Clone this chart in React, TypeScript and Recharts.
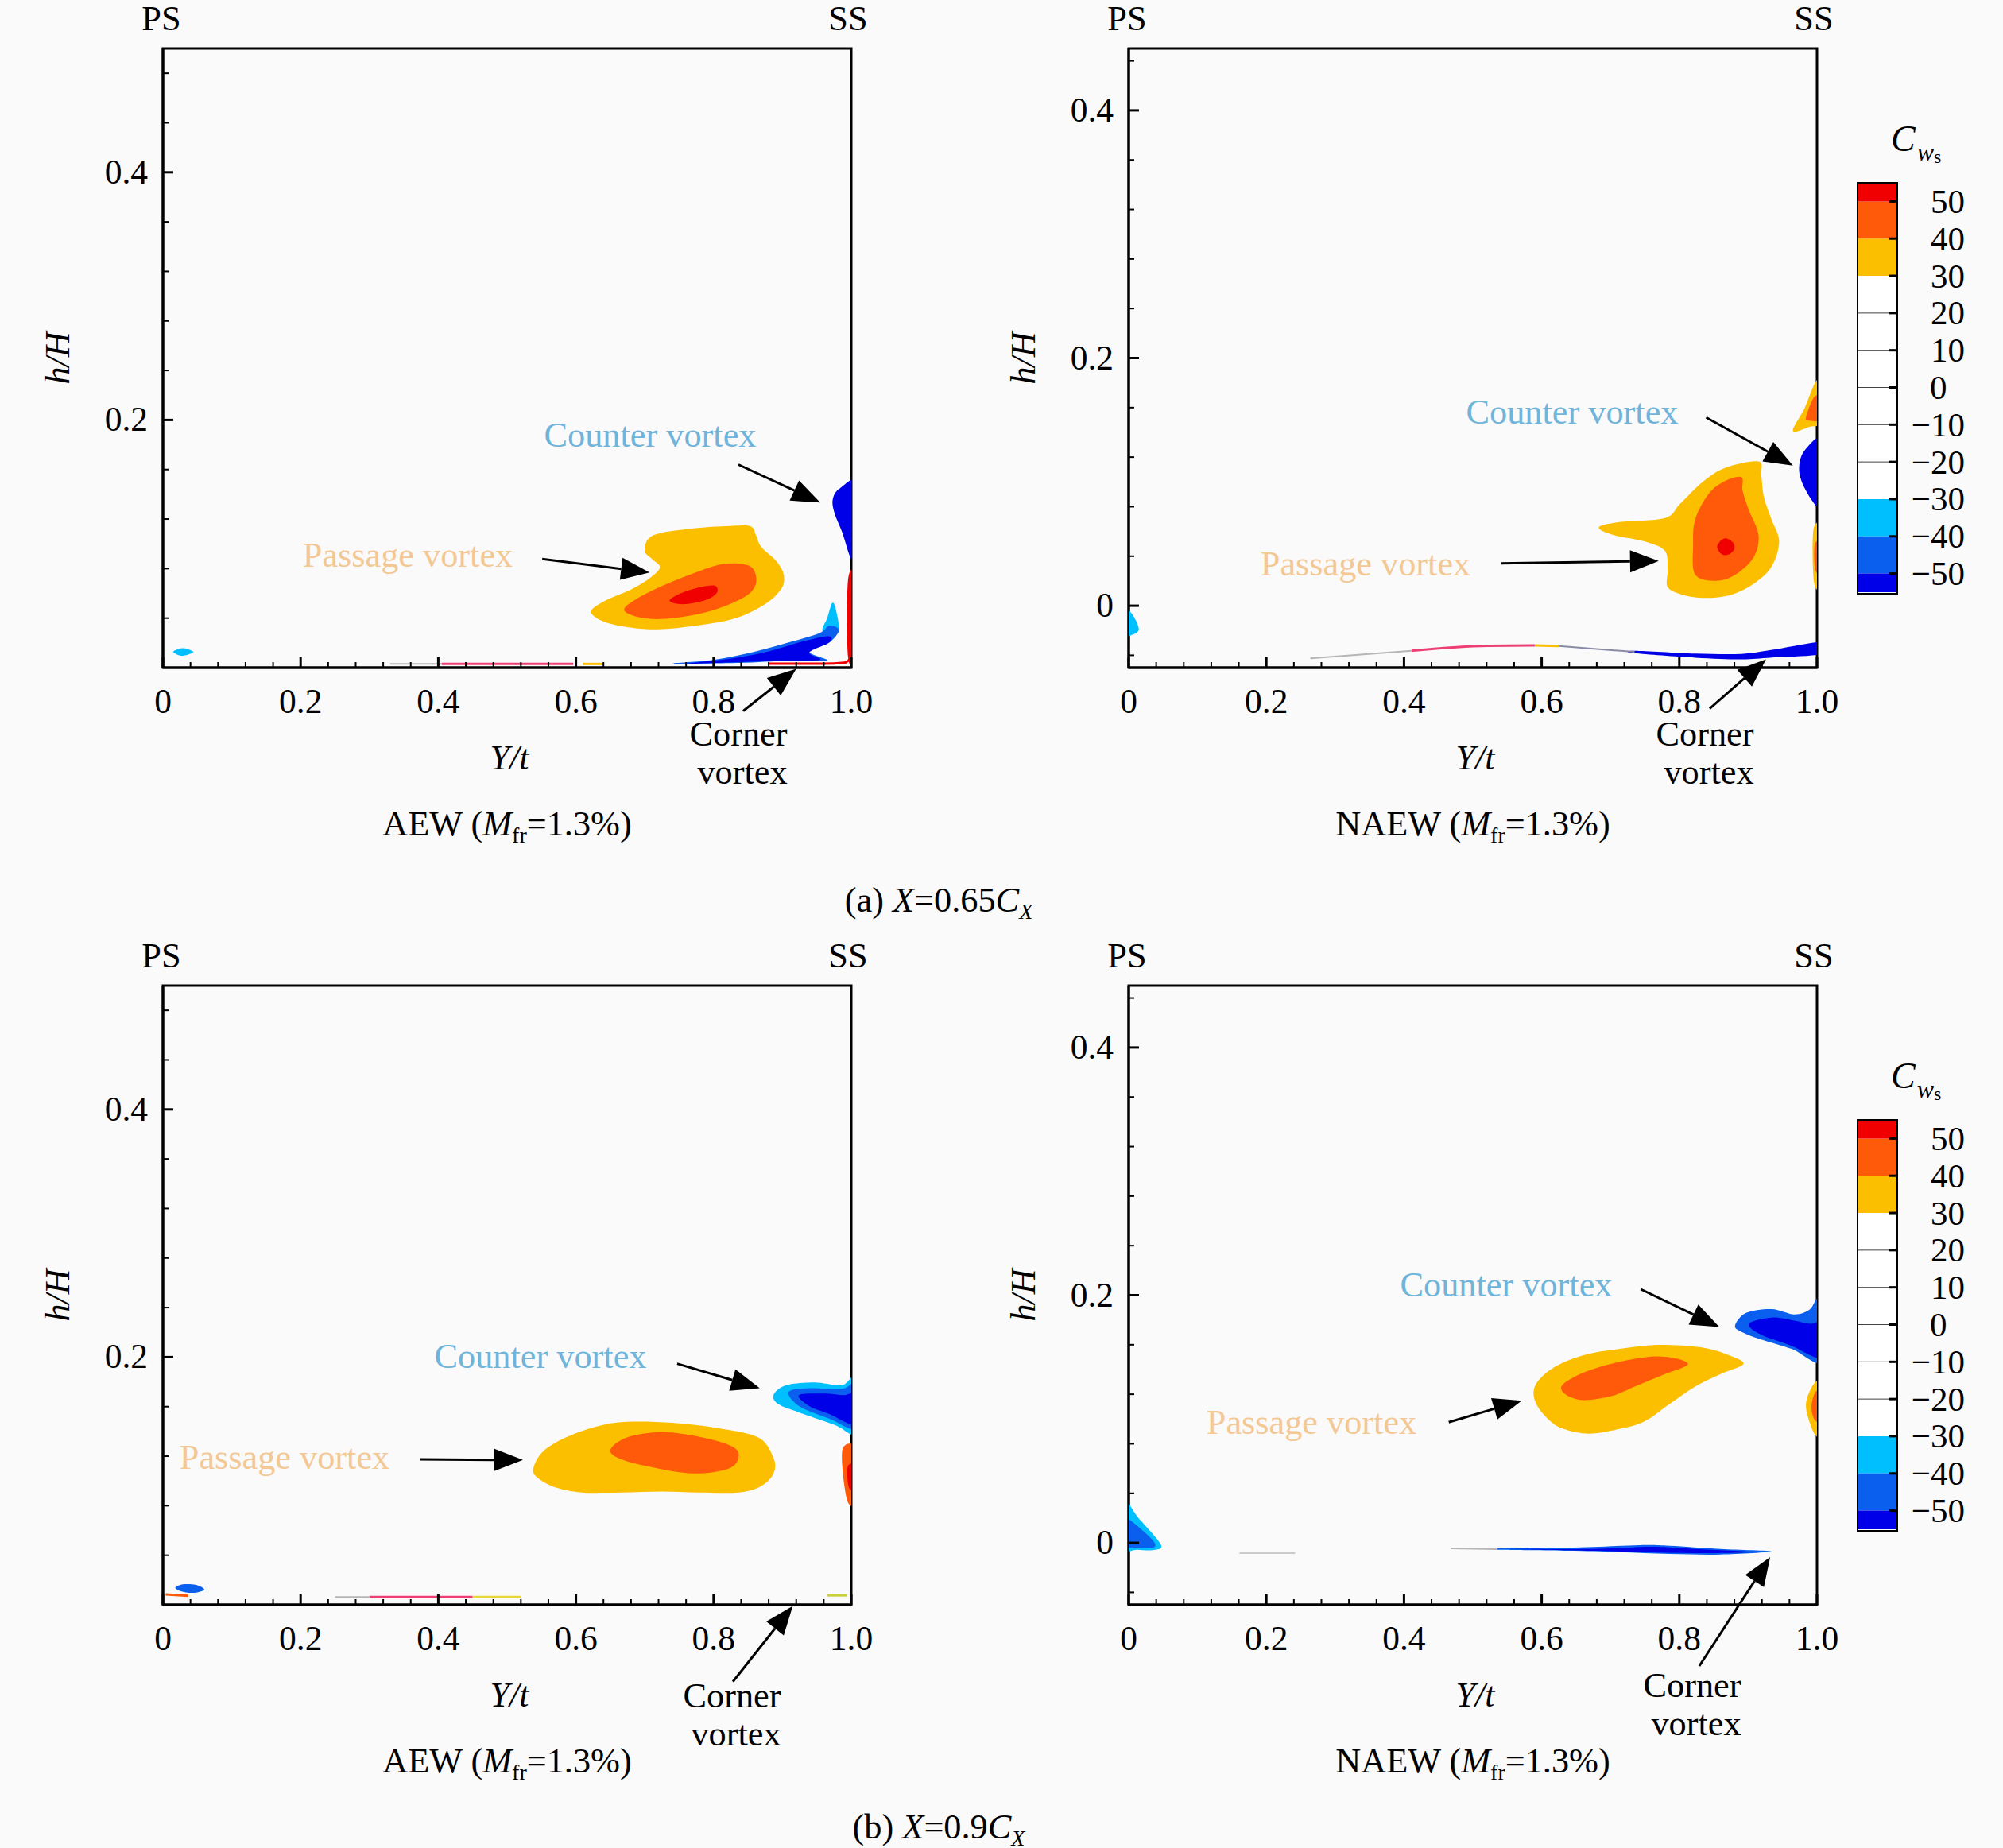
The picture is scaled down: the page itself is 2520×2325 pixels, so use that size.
import React from 'react';
import {
  ScatterChart,
  Scatter,
  BarChart,
  Bar,
  XAxis,
  YAxis,
  ReferenceLine,
  ReferenceArea,
} from 'recharts';

type Pair = [number, number];

const FONT = '"Liberation Serif", serif';
const YELLOW = '#fcbf00';
const ORANGE = '#ff5a0a';
const RED = '#f00000';
const CYAN = '#00bfff';
const MID = '#0a5fee';
const DARK = '#0000e8';
const PINK = '#ee3f74';
const GREY = '#b5b5b5';

// axis ticks
const xMajor = [0, 0.2, 0.4, 0.6, 0.8, 1];
const xMinor = [0.04, 0.08, 0.12, 0.16, 0.24, 0.28, 0.32, 0.36, 0.44, 0.48, 0.52, 0.56, 0.64, 0.68, 0.72, 0.76, 0.84, 0.88, 0.92, 0.96];
const yMajor = [0, 0.2, 0.4];
const yMinor = [-0.04, 0.04, 0.08, 0.12, 0.16, 0.24, 0.28, 0.32, 0.36, 0.44, 0.48];

// colour bar
const cbTicks = [50, 40, 30, 20, 10, 0, -10, -20, -30, -40, -50];
const cbBands = [30, 10, 10, 5, -30, -10, -10, -5];
const cbColors = ['#ffffff', YELLOW, ORANGE, RED, '#ffffff', CYAN, MID, DARK];

// (a) AEW
const a1Outer: Pair[] = [[.622,.0456],[.644,.0545],[.681,.0634],[.707,.0722],[.722,.0811],[.711,.0875],[.700,.0938],[.705,.1039],[.725,.1090],[.777,.1128],[.828,.1146],[.854,.1141],[.862,.1065],[.869,.0976],[.891,.0862],[.902,.0748],[.898,.0634],[.873,.0507],[.828,.0393],[.762,.0330],[.711,.0309],[.666,.0335],[.637,.0380]];
const a1Inner: Pair[] = [[.670,.0469],[.689,.0558],[.725,.0659],[.770,.0760],[.814,.0837],[.851,.0824],[.862,.0722],[.854,.0608],[.821,.0507],[.777,.0431],[.725,.0393],[.689,.0411]];
const a1Core: Pair[] = [[.736,.0545],[.762,.0621],[.799,.0664],[.805,.0608],[.788,.0545],[.755,.0512]];
const a1Counter: Pair[] = [[1.01,.1483],[.983,.1445],[.973,.1356],[.976,.1242],[.987,.1090],[1.0,.0875],[1.01,.0875]];
const a1CornerTip: Pair[] = [[.972,.0520],[.977,.0482],[.982,.0304],[.970,.0240],[.958,.0300],[.965,.0400]];
const a1Corner: Pair[] = [[.740,.0033],[.799,.0063],[.858,.0127],[.909,.0203],[.954,.0279],[.968,.0340],[.982,.0304],[.968,.0203],[.939,.0127],[.965,.0056],[.909,.0056],[.836,.0038]];
const a1CornerCore: Pair[] = [[.762,.0033],[.828,.0076],[.880,.0132],[.932,.0215],[.967,.0254],[.968,.0203],[.939,.0122],[.954,.0063],[.895,.0056],[.828,.0043]];
const a1Wall: Pair[] = [[.9955,.072],[1.01,.072],[1.01,.0076],[.9955,.0076]];
const a1Spot: Pair[] = [[.015,.0127],[.022,.0150],[.030,.0157],[.040,.0142],[.044,.0125],[.036,.0105],[.025,.0098]];
const a1LinePink: Pair[] = [[.405,.003],[.5,.003],[.596,.003]];
const a1LineYellow: Pair[] = [[.61,.003],[.64,.003]];
const a1LineGrey: Pair[] = [[.33,.003],[.405,.003]];
const a1LineRed: Pair[] = [[.88,.0032],[.96,.0032],[.99,.0040],[1,.008]];

// (a) NAEW
const a2Outer: Pair[] = [[.683,.0633],[.713,.0676],[.779,.0709],[.801,.0823],[.834,.1001],[.867,.1115],[.915,.1165],[.919,.1051],[.923,.0874],[.934,.0696],[.945,.0519],[.934,.0316],[.908,.0177],[.875,.0088],[.838,.0063],[.805,.0088],[.783,.0151],[.783,.0291],[.779,.0443],[.750,.0519],[.705,.0570]];
const a2Inner: Pair[] = [[.820,.0494],[.823,.0696],[.842,.0899],[.864,.1001],[.890,.1039],[.892,.0925],[.901,.0772],[.915,.0570],[.908,.0392],[.882,.0253],[.853,.0202],[.823,.0253]];
const a2Core: Pair[] = [[.855,.0473],[.860,.0525],[.868,.0545],[.878,.0510],[.880,.0460],[.872,.0415],[.862,.0415]];
const a2Top: Pair[] = [[.965,.1411],[.982,.1596],[.9985,.1812],[1.01,.1812],[1.01,.1495],[.989,.1444]];
const a2TopInner: Pair[] = [[.984,.152],[.996,.1685],[1.01,.1685],[1.01,.1507],[.989,.1495]];
const a2Counter: Pair[] = [[1.01,.1343],[.982,.1254],[.974,.1102],[.982,.0950],[1.0,.0798],[1.01,.0798]];
const a2Wall: Pair[] = [[.995,.062],[1.01,.062],[1.01,.0177],[.996,.0177]];
const a2WallInner: Pair[] = [[.997,.050],[1.01,.050],[1.01,.028],[.998,.028]];
const a2Left: Pair[] = [[-.01,-.0026],[.004,-.006],[.0147,-.0191],[.002,-.0241],[-.01,-.0241]];
const a2Band: Pair[] = [[.735,-.0363],[.823,-.0386],[.890,-.0389],[.935,-.0356],[1.01,-.0292],[1.01,-.0388],[.935,-.0418],[.890,-.0432],[.823,-.0419],[.735,-.0383]];
const a2LineGrey1: Pair[] = [[.264,-.0424],[.411,-.0363]];
const a2LinePink: Pair[] = [[.411,-.0363],[.521,-.0323],[.590,-.0320]];
const a2LineYellow: Pair[] = [[.590,-.0320],[.625,-.0325]];
const a2LineGrey2: Pair[] = [[.625,-.0325],[.676,-.0348],[.735,-.0372]];

// (b) AEW
const b1Outer: Pair[] = [[.538,.1098],[.552,.1237],[.585,.1351],[.630,.1440],[.674,.1478],[.740,.1470],[.806,.1427],[.865,.1351],[.887,.1186],[.887,.1060],[.869,.0958],[.836,.0907],[.777,.0907],[.725,.0915],[.666,.0907],[.608,.0907],[.571,.0946],[.545,.1022]];
const b1Inner: Pair[] = [[.650,.1250],[.674,.1351],[.725,.1394],[.784,.1351],[.828,.1275],[.836,.1186],[.821,.1098],[.770,.1060],[.711,.1110],[.666,.1174]];
const b1CounterOuter: Pair[] = [[.887,.1693],[.906,.1774],[.947,.1795],[.987,.1774],[1.01,.1860],[1.01,.1389],[.976,.1452],[.924,.1554],[.895,.1617]];
const b1CounterMid: Pair[] = [[.909,.1719],[.939,.1749],[.987,.1744],[1.01,.1795],[1.01,.1427],[.968,.1503],[.924,.1605]];
const b1CounterCore: Pair[] = [[.924,.1693],[.961,.1706],[.990,.1693],[1.01,.1706],[1.01,.1452],[.968,.1541],[.939,.1605]];
const b1Wall: Pair[] = [[.987,.125],[1.01,.125],[1.01,.0844],[.994,.0844]];
const b1WallCore: Pair[] = [[.995,.112],[1.01,.112],[1.01,.094],[.997,.094]];
const b1Spot: Pair[] = [[.018,.0139],[.029,.0165],[.048,.0160],[.060,.0122],[.044,.0096],[.026,.0109]];
const b1LineOrange: Pair[] = [[.004,.0084],[.037,.0072]];
const b1LineGrey: Pair[] = [[.25,.0063],[.30,.0063]];
const b1LinePink: Pair[] = [[.30,.0063],[.45,.0063]];
const b1LineYellow: Pair[] = [[.45,.0063],[.52,.0063]];
const b1LineEnd: Pair[] = [[.965,.0076],[.994,.0076]];

// (b) NAEW
const b2Outer: Pair[] = [[.893,.1444],[.860,.1363],[.823,.1262],[.786,.1122],[.750,.0983],[.713,.0920],[.669,.0882],[.632,.0920],[.610,.0996],[.591,.1135],[.591,.1274],[.617,.1414],[.661,.1515],[.713,.1566],[.768,.1599],[.831,.1579],[.872,.1515]];
const b2Inner: Pair[] = [[.812,.1439],[.779,.1363],[.735,.1262],[.702,.1186],[.661,.1153],[.635,.1198],[.630,.1274],[.661,.1376],[.705,.1452],[.757,.1503],[.794,.1490]];
const b2CounterOuter: Pair[] = [[.881,.1756],[.897,.1857],[.934,.1888],[.967,.1845],[.989,.1883],[1.0,.1972],[1.01,.1972],[1.01,.1465],[.963,.1566],[.919,.1642],[.890,.1705]];
const b2CounterCore: Pair[] = [[.901,.1769],[.934,.1819],[.967,.1794],[.989,.1769],[1.01,.1769],[1.01,.1490],[.963,.1591],[.919,.1680]];
const b2WallOuter: Pair[] = [[.996,.1287],[.984,.1122],[.991,.0945],[1.0,.0856],[1.01,.0856],[1.01,.1287]];
const b2WallInner: Pair[] = [[.998,.1220],[.992,.1100],[.997,.0990],[1.01,.0990],[1.01,.1220]];
const b2LeftOuter: Pair[] = [[-.01,.0362],[.013,.0210],[.046,-.0006],[.039,-.0056],[.013,-.0056],[-.01,-.0031]];
const b2LeftCore: Pair[] = [[-.01,.0210],[.021,.0096],[.039,-.0018],[.021,-.0044],[-.01,-.0006]];
const b2Band: Pair[] = [[.536,-.0044],[.639,-.0039],[.742,-.0018],[.786,-.0023],[.860,-.0049],[.934,-.0069],[.860,-.0094],[.786,-.0089],[.712,-.0074],[.639,-.0064],[.536,-.0056]];
const b2BandCore: Pair[] = [[.551,-.0049],[.676,-.0049],[.757,-.0031],[.823,-.0049],[.904,-.0074],[.823,-.0082],[.750,-.0074],[.676,-.0064]];
const b2LineGrey1: Pair[] = [[.468,-.0044],[.536,-.0050]];
const b2LineGrey2: Pair[] = [[.161,-.0082],[.242,-.0082]];

// arrows: tail, tip
const a1Arrows: Pair[][] = [[[.836,.164],[.955,.1333]],[[.551,.0878],[.707,.0769]],[[.843,-.035],[.920,-.001]]];
const a2Arrows: Pair[][] = [[[.839,.1520],[.965,.1132]],[[.541,.0342],[.770,.0362]],[[.844,-.0832],[.926,-.0432]]];
const b1Arrows: Pair[][] = [[[.747,.1947],[.867,.1749]],[[.373,.1174],[.523,.1169]],[[.828,-.0621],[.915,-.001]]];
const b2Arrows: Pair[][] = [[[.744,.2048],[.858,.1743]],[[.465,.0975],[.571,.1148]],[[.829,-.0994],[.932,-.0115]]];

const toPoints = (pairs: Pair[]) => pairs.map(([x, y]) => ({ x, y }));

const PLOT_W = 866;
const PLOT_H = 779;
const AXIS_W = 175;
const AXIS_H = 160;
const MARGIN_TOP = 61;

// smooth closed outline through the points the scatter series hands over
function closedSpline(pts: { x: number; y: number }[]) {
  const n = pts.length;
  let d = `M${pts[0].x},${pts[0].y}`;
  for (let i = 0; i < n; i++) {
    const p0 = pts[(i - 1 + n) % n];
    const p1 = pts[i];
    const p2 = pts[(i + 1) % n];
    const p3 = pts[(i + 2) % n];
    d += `C${p1.x + (p2.x - p0.x) / 6},${p1.y + (p2.y - p0.y) / 6} ${p2.x - (p3.x - p1.x) / 6},${p2.y - (p3.y - p1.y) / 6} ${p2.x},${p2.y}`;
  }
  return `${d}Z`;
}

function XTick({ x, y, payload }: any) {
  const major = xMajor.includes(payload.value);
  return (
    <g>
      <line x1={x} x2={x} y1={y} y2={y - (major ? 13 : 7)} stroke="#000" strokeWidth={major ? 3 : 2} />
      {major && (
        <text x={x} y={y + 42} textAnchor="middle" dominantBaseline="central" fontFamily={FONT} fontSize={43.5} fill="#000">
          {payload.value === 0 ? '0' : payload.value.toFixed(1)}
        </text>
      )}
    </g>
  );
}

function YTick({ x, y, payload, showZero }: any) {
  const major = yMajor.includes(payload.value);
  return (
    <g>
      <line x1={x} x2={x + (major ? 13 : 7)} y1={y} y2={y} stroke="#000" strokeWidth={major ? 3 : 2} />
      {major && (payload.value !== 0 || showZero) && (
        <text x={x - 19} y={y - 1} textAnchor="end" dominantBaseline="central" fontFamily={FONT} fontSize={43.5} fill="#000">
          {payload.value === 0 ? '0' : payload.value.toFixed(1)}
        </text>
      )}
    </g>
  );
}

function ArrowLine({ x1, y1, x2, y2 }: any) {
  const len = Math.hypot(x2 - x1, y2 - y1);
  const ux = (x2 - x1) / len;
  const uy = (y2 - y1) / len;
  const bx = x2 - ux * 36;
  const by = y2 - uy * 36;
  const head = `${x2},${y2} ${bx - uy * 14},${by + ux * 14} ${bx + uy * 14},${by - ux * 14}`;
  return (
    <g>
      <line x1={x1} y1={y1} x2={bx} y2={by} stroke="#000" strokeWidth={3} />
      <polygon points={head} fill="#000" />
    </g>
  );
}

type Layer = { pts: Pair[]; color: string };
type Stroke = { pts: Pair[]; color: string; width: number };

function Panel({ left, top, yDomain, layers, strokes, arrows, showZero }: {
  left: number;
  top: number;
  yDomain: [number, number];
  layers: Layer[];
  strokes: Stroke[];
  arrows: Pair[][];
  showZero?: boolean;
}) {
  const yTicks = [...yMajor, ...yMinor].filter((v) => v > yDomain[0] && v < yDomain[1]);
  return (
    <div style={{ position: 'absolute', left, top }}>
      <ScatterChart
        width={AXIS_W + PLOT_W + 60}
        height={MARGIN_TOP + PLOT_H + AXIS_H}
        margin={{ top: MARGIN_TOP, right: 60, bottom: 0, left: 0 }}
      >
        <XAxis
          type="number"
          dataKey="x"
          domain={[0, 1]}
          allowDataOverflow
          ticks={[...xMajor, ...xMinor]}
          interval={0}
          height={AXIS_H}
          tickSize={0}
          tickMargin={0}
          tickLine={false}
          tick={<XTick />}
          stroke="#000"
          strokeWidth={3}
          label={{ value: 'Y/t', position: 'insideTop', offset: 97, dx: 3, fontFamily: FONT, fontStyle: 'italic', fontSize: 44, fill: '#000' }}
        />
        <YAxis
          type="number"
          dataKey="y"
          domain={yDomain}
          allowDataOverflow
          ticks={yTicks}
          interval={0}
          width={AXIS_W}
          tickSize={0}
          tickMargin={0}
          tickLine={false}
          tick={<YTick showZero={showZero} />}
          stroke="#000"
          strokeWidth={3}
          label={{ value: 'h/H', angle: -90, position: 'insideLeft', offset: 41, fontFamily: FONT, fontStyle: 'italic', fontSize: 44, fill: '#000', style: { textAnchor: 'middle' } }}
        />
        {layers.map((l, i) => (
          <Scatter
            key={`c${i}`}
            data={toPoints(l.pts)}
            shape={() => null}
            line={(p: any) => <path d={closedSpline(p.points)} fill={l.color} stroke="none" />}
            lineType="joint"
            isAnimationActive={false}
          />
        ))}
        {strokes.map((s, i) => (
          <Scatter
            key={`s${i}`}
            data={toPoints(s.pts)}
            shape={() => null}
            line={{ fill: 'none', stroke: s.color, strokeWidth: s.width }}
            lineType="joint"
            lineJointType="monotoneX"
            isAnimationActive={false}
          />
        ))}
        <ReferenceArea x1={0} x2={1} y1={yDomain[0]} y2={yDomain[1]} fill="none" stroke="#000" strokeWidth={3} />
        {arrows.map((a, i) => (
          <ReferenceLine
            key={`a${i}`}
            segment={toPoints(a)}
            ifOverflow="visible"
            shape={(p: any) => <ArrowLine {...p} />}
          />
        ))}
      </ScatterChart>
    </div>
  );
}

function CbTick({ x, y, payload }: any) {
  const v = payload.value;
  return (
    <g>
      <line x1={x - 8} x2={x} y1={y} y2={y} stroke="#000" strokeWidth={3} />
      <text
        x={v === 0 ? x + 43 : x + 87}
        y={y}
        textAnchor={v === 0 ? 'start' : 'end'}
        dominantBaseline="central"
        fontFamily={FONT}
        fontSize={43}
        fill="#000"
      >
        {v < 0 ? `\u2212${-v}` : v}
      </text>
    </g>
  );
}

function ColorBar({ top }: { top: number }) {
  const row: Record<string, number | string> = { name: 'Cw' };
  cbBands.forEach((v, i) => { row[`b${i}`] = v; });
  return (
    <div style={{ position: 'absolute', left: 2337, top }}>
      <BarChart
        width={148}
        height={515}
        data={[row]}
        stackOffset="sign"
        barCategoryGap={0}
        margin={{ top: 0, right: 0, bottom: 0, left: 0 }}
      >
        <XAxis dataKey="name" hide />
        <YAxis
          type="number"
          orientation="right"
          domain={[-55, 55]}
          allowDataOverflow
          ticks={cbTicks}
          interval={0}
          width={100}
          tickSize={0}
          tickMargin={0}
          tickLine={false}
          axisLine={false}
          tick={<CbTick />}
        />
        {cbBands.map((_, i) => (
          <Bar key={i} dataKey={`b${i}`} stackId="cb" fill={cbColors[i]} isAnimationActive={false} />
        ))}
        {cbTicks.slice(3, 8).map((v) => (
          <ReferenceLine key={v} y={v} stroke="#444" strokeWidth={1} />
        ))}
      </BarChart>
      {/* frame round the bar */}
      <div style={{ position: 'absolute', left: -1, top: -1, width: 48, height: 515, border: '2px solid #000', boxSizing: 'content-box', pointerEvents: 'none', marginRight: 0 }} />
    </div>
  );
}

function Note({ x, y, size = 44.3, color = '#000', children }: any) {
  return (
    <div
      style={{
        position: 'absolute',
        left: x,
        top: y,
        transform: 'translate(-50%, -50%)',
        fontFamily: FONT,
        fontSize: size,
        lineHeight: 1,
        color,
        whiteSpace: 'nowrap',
      }}
    >
      {children}
    </div>
  );
}

const Sub = ({ children, italic }: any) => (
  <span style={{ fontSize: 28, position: 'relative', top: 9, fontStyle: italic ? 'italic' : 'normal' }}>{children}</span>
);

const COUNTER = '#6fb4da';
const PASSAGE = '#f3c894';

function PanelNotes({ dy, px, counter, passage, corner, vortex, caption }: any) {
  return (
    <>
      <Note x={px + 203} y={dy + 24}>PS</Note>
      <Note x={px + 1067} y={dy + 24}>SS</Note>
      <Note x={counter[0]} y={counter[1]} color={COUNTER}>Counter vortex</Note>
      <Note x={passage[0]} y={passage[1]} color={PASSAGE}>Passage vortex</Note>
      <Note x={corner[0]} y={corner[1]}>Corner</Note>
      <Note x={vortex[0]} y={vortex[1]}>vortex</Note>
      <Note x={px + 638} y={dy + 1037}>
        {caption} (<i>M</i><Sub>fr</Sub>=1.3%)
      </Note>
    </>
  );
}

function ColorTitle({ dy }: { dy: number }) {
  return (
    <div style={{ position: 'absolute', left: 2379, top: dy + 152, fontFamily: FONT, fontSize: 46, lineHeight: 1, whiteSpace: 'nowrap' }}>
      <i>C</i>
      <i style={{ fontSize: 32, position: 'relative', top: 12, left: 2 }}>w</i>
      <span style={{ fontSize: 24, position: 'relative', top: 15, left: 2 }}>s</span>
    </div>
  );
}

export default function App() {
  const bDy = 1179;
  return (
    <div style={{ position: 'absolute', left: 0, top: 0, width: 2520, height: 2325, background: '#fafafa', overflow: 'hidden' }}>
      <Panel
        left={30}
        top={0}
        yDomain={[0, 0.5]}
        layers={[
          { pts: a1Outer, color: YELLOW }, { pts: a1Inner, color: ORANGE }, { pts: a1Core, color: RED },
          { pts: a1Counter, color: DARK }, { pts: a1CornerTip, color: CYAN }, { pts: a1Corner, color: MID },
          { pts: a1CornerCore, color: DARK }, { pts: a1Wall, color: RED }, { pts: a1Spot, color: CYAN },
        ]}
        strokes={[
          { pts: a1LineGrey, color: GREY, width: 2 }, { pts: a1LinePink, color: PINK, width: 3 },
          { pts: a1LineYellow, color: YELLOW, width: 3 }, { pts: a1LineRed, color: RED, width: 3 },
        ]}
        arrows={a1Arrows}
      />
      <Panel
        left={1245}
        top={0}
        yDomain={[-0.05, 0.45]}
        showZero
        layers={[
          { pts: a2Outer, color: YELLOW }, { pts: a2Inner, color: ORANGE }, { pts: a2Core, color: RED },
          { pts: a2Top, color: YELLOW }, { pts: a2TopInner, color: ORANGE }, { pts: a2Counter, color: DARK },
          { pts: a2Wall, color: YELLOW }, { pts: a2WallInner, color: ORANGE }, { pts: a2Left, color: CYAN },
          { pts: a2Band, color: DARK },
        ]}
        strokes={[
          { pts: a2LineGrey1, color: GREY, width: 2 }, { pts: a2LinePink, color: PINK, width: 3 },
          { pts: a2LineYellow, color: YELLOW, width: 3 }, { pts: a2LineGrey2, color: '#8a8aa8', width: 2 },
        ]}
        arrows={a2Arrows}
      />
      <Panel
        left={30}
        top={bDy}
        yDomain={[0, 0.5]}
        layers={[
          { pts: b1Outer, color: YELLOW }, { pts: b1Inner, color: ORANGE }, { pts: b1CounterOuter, color: CYAN },
          { pts: b1CounterMid, color: MID }, { pts: b1CounterCore, color: DARK }, { pts: b1Wall, color: ORANGE },
          { pts: b1WallCore, color: RED }, { pts: b1Spot, color: MID },
        ]}
        strokes={[
          { pts: b1LineOrange, color: ORANGE, width: 3 }, { pts: b1LineGrey, color: GREY, width: 2 },
          { pts: b1LinePink, color: PINK, width: 3 }, { pts: b1LineYellow, color: '#e6d83a', width: 3 },
          { pts: b1LineEnd, color: '#c9cf3a', width: 3 },
        ]}
        arrows={b1Arrows}
      />
      <Panel
        left={1245}
        top={bDy}
        yDomain={[-0.05, 0.45]}
        showZero
        layers={[
          { pts: b2Outer, color: YELLOW }, { pts: b2Inner, color: ORANGE }, { pts: b2CounterOuter, color: MID },
          { pts: b2CounterCore, color: DARK }, { pts: b2WallOuter, color: YELLOW }, { pts: b2WallInner, color: ORANGE },
          { pts: b2LeftOuter, color: CYAN }, { pts: b2LeftCore, color: MID }, { pts: b2Band, color: MID },
          { pts: b2BandCore, color: DARK },
        ]}
        strokes={[
          { pts: b2LineGrey1, color: GREY, width: 2 }, { pts: b2LineGrey2, color: '#cccccc', width: 2 },
        ]}
        arrows={b2Arrows}
      />

      <PanelNotes dy={0} px={0} counter={[818, 548]} passage={[513, 699]} corner={[929, 924]} vortex={[934, 972]} caption="AEW" />
      <PanelNotes dy={0} px={1215} counter={[1978, 519]} passage={[1718, 710]} corner={[2145, 924]} vortex={[2150, 972]} caption="NAEW" />
      <PanelNotes dy={bDy} px={0} counter={[680, 1707]} passage={[358, 1834]} corner={[921, 2134]} vortex={[926, 2182]} caption="AEW" />
      <PanelNotes dy={bDy} px={1215} counter={[1895, 1617]} passage={[1650, 1790]} corner={[2129, 2121]} vortex={[2134, 2169]} caption="NAEW" />

      <Note x={1181} y={1133}>(a) <i>X</i>=0.65<i>C</i><Sub italic>X</Sub></Note>
      <Note x={1181} y={2299}>(b) <i>X</i>=0.9<i>C</i><Sub italic>X</Sub></Note>

      <ColorBar top={230} />
      <ColorBar top={230 + bDy} />
      <ColorTitle dy={0} />
      <ColorTitle dy={bDy} />
    </div>
  );
}
